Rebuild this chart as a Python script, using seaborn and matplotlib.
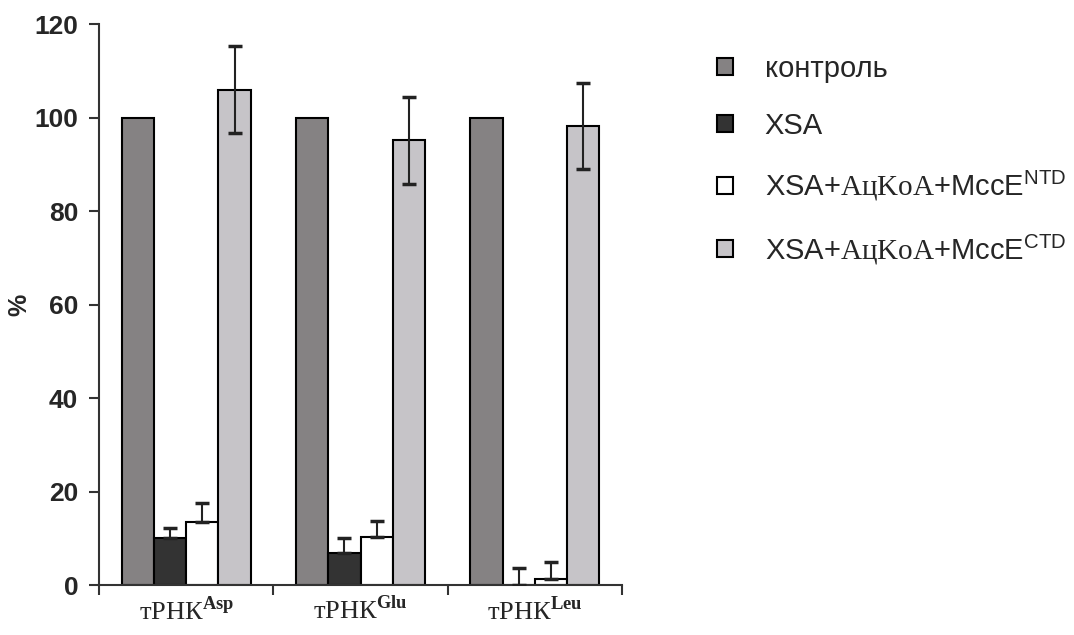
import matplotlib
matplotlib.use("Agg")
import matplotlib.pyplot as plt
import seaborn as sns
import pandas as pd
from matplotlib.ticker import FixedLocator

categories = ["Asp", "Glu", "Leu"]
series = ["контроль", "XSA",
          "XSA+$\\mathrm{AцKoA}$+MccE$^{\\mathsf{NTD}}$",
          "XSA+$\\mathrm{AцKoA}$+MccE$^{\\mathsf{CTD}}$"]
values = {
    series[0]: [100, 100, 100],
    series[1]: [10.0, 6.8, 0.0],
    series[2]: [13.5, 10.3, 1.2],
    series[3]: [106.0, 95.2, 98.2],
}
errors = {
    series[0]: [0, 0, 0],
    series[1]: [2.3, 3.2, 3.6],
    series[2]: [4.0, 3.4, 3.7],
    series[3]: [9.3, 9.3, 9.2],
}
two_sided = {series[0]: False, series[1]: False, series[2]: False, series[3]: True}
colors = ["#858283", "#333333", "#ffffff", "#c6c4c8"]
tick_labels = ["тРНК$^{\\mathbf{%s}}$" % c for c in categories]
yticks = [0, 20, 40, 60, 80, 100, 120]

rows = []
for s in series:
    for c, v in zip(categories, values[s]):
        rows.append({"cat": c, "series": s, "value": v})
df = pd.DataFrame(rows)

sns.set_style("white")
plt.rcParams["font.family"] = ["Liberation Sans", "DejaVu Sans"]
plt.rcParams["mathtext.fontset"] = "custom"
plt.rcParams["mathtext.rm"] = "Liberation Serif"
plt.rcParams["mathtext.bf"] = "Liberation Serif:bold"
plt.rcParams["mathtext.sf"] = "Liberation Sans"

fig = plt.figure(figsize=(10.74, 6.35), dpi=100)
ax = fig.add_axes([0.0922, 0.0787, 0.487, 0.8833])

sns.barplot(data=df, x="cat", y="value", hue="series", hue_order=series,
            palette=colors, width=0.74, gap=0, edgecolor="black", linewidth=1.5,
            errorbar=None, ax=ax, saturation=1, legend=True)

for s, cont in zip(series, ax.containers):
    if not any(errors[s]):
        continue
    xs = [p.get_x() + p.get_width() / 2 for p in cont.patches]
    hs = [p.get_height() for p in cont.patches]
    if two_sided[s]:
        yerr = errors[s]
    else:
        yerr = [[0] * len(errors[s]), errors[s]]
    ax.errorbar(xs, hs, yerr=yerr, fmt="none", ecolor="#222222",
                elinewidth=1.5, capsize=5, capthick=2.5, zorder=5)

ax.set_ylim(0, 120)
ax.set_xlim(-0.5, 2.5)
ax.set_yticks(yticks)
ax.set_yticklabels([str(t) for t in yticks], fontsize=19, fontweight="bold")
ax.set_xticks(range(len(categories)))
ax.set_xticklabels(tick_labels, fontsize=19, family=["Liberation Serif", "DejaVu Serif"])
ax.xaxis.set_minor_locator(FixedLocator([-0.5, 0.5, 1.5, 2.5]))
ax.tick_params(axis="x", which="major", length=0, pad=8)
ax.tick_params(axis="x", which="minor", length=7, width=1.5, color="#333333", bottom=True)
ax.tick_params(axis="y", which="major", length=7, width=1.5, color="#333333", left=True, pad=8)
ax.set_xlabel("")
ax.set_ylabel("%", fontsize=18, fontweight="bold")
ax.yaxis.set_label_coords(-0.13, 0.5)
for sp in ["top", "right"]:
    ax.spines[sp].set_visible(False)
for sp in ["left", "bottom"]:
    ax.spines[sp].set_color("#333333")
    ax.spines[sp].set_linewidth(1.5)

handles, labels = ax.get_legend_handles_labels()
ax.legend(handles, labels, loc="upper left", bbox_to_anchor=(1.16, 0.966),
          frameon=False, fontsize=21, handlelength=0.52, handleheight=0.52,
          labelspacing=1.0, handletextpad=1.1, borderaxespad=0)

fig.savefig("out.png", dpi=100)
